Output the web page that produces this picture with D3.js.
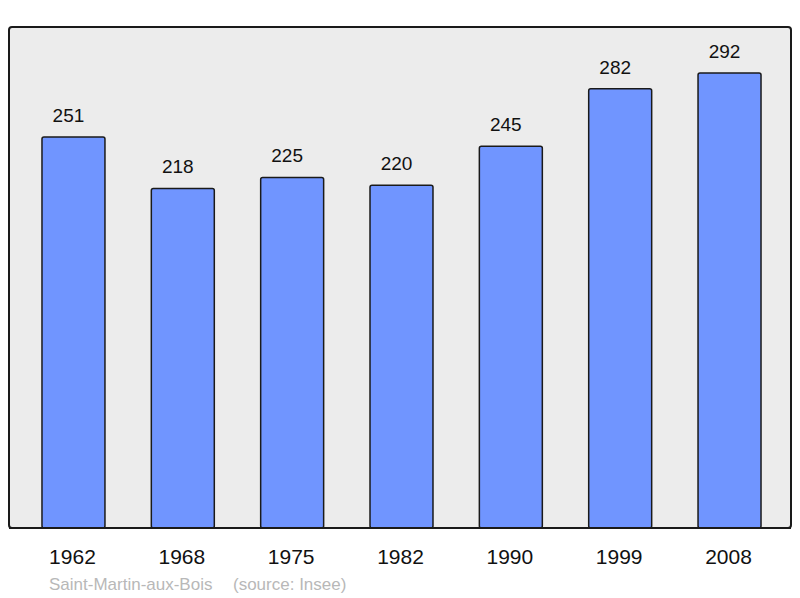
<!DOCTYPE html>
<html>
<head>
<meta charset="utf-8">
<script src="https://cdn.jsdelivr.net/npm/d3@7"></script>
<style>
  body { margin: 0; background: #fff; }
  svg { display: block; font-family: "Liberation Sans", Arial, sans-serif; }
</style>
</head>
<body>
<div class="chart"></div>
<script>
const years = ["1962", "1968", "1975", "1982", "1990", "1999", "2008"];
const population = [251, 218, 225, 220, 245, 282, 292];
const town = "Saint-Martin-aux-Bois";
const source = "(source: Insee)";

const width = 800, height = 598;
const panel = { left: 9, top: 27, right: 791, bottom: 528 };

const svg = d3.select(".chart")
    .append("svg")
    .attr("width", width)
    .attr("height", height);

// frame
svg.append("rect")
    .attr("x", panel.left)
    .attr("y", panel.top)
    .attr("width", panel.right - panel.left)
    .attr("height", panel.bottom - panel.top)
    .attr("rx", 3)
    .attr("fill", "#ececec")
    .attr("stroke", "#1a1a1a")
    .attr("stroke-width", 2);

const x = d3.scaleBand()
    .domain(years)
    .range([18.8, 784.2])
    .paddingInner(0.424)
    .paddingOuter(0.212);

const y = d3.scaleLinear()
    .domain([0, 321.6])
    .range([panel.bottom, panel.top]);

const data = years.map((yr, i) => ({ year: yr, value: population[i] }));

svg.selectAll(".bar")
    .data(data)
    .join("rect")
    .attr("class", "bar")
    .attr("x", d => x(d.year))
    .attr("y", d => y(d.value))
    .attr("width", x.bandwidth())
    .attr("height", d => y(0) - y(d.value))
    .attr("rx", 2)
    .attr("fill", "#7095ff")
    .attr("stroke", "#1a1a1a")
    .attr("stroke-width", 1.5);

// redraw the bottom line of the frame over the bars
svg.append("line")
    .attr("x1", panel.left)
    .attr("x2", panel.right)
    .attr("y1", panel.bottom)
    .attr("y2", panel.bottom)
    .attr("stroke", "#1a1a1a")
    .attr("stroke-width", 2);

svg.selectAll(".value")
    .data(data)
    .join("text")
    .attr("class", "value")
    .attr("x", d => x(d.year) + x.bandwidth() / 2 - 5)
    .attr("y", d => y(d.value) - 15)
    .attr("text-anchor", "middle")
    .style("font-size", "19px")
    .style("fill", "#111")
    .text(d => d.value);

svg.selectAll(".year")
    .data(years)
    .join("text")
    .attr("class", "year")
    .attr("x", d => x(d) + x.bandwidth() / 2 - 1)
    .attr("y", 564)
    .attr("text-anchor", "middle")
    .style("font-size", "21px")
    .style("fill", "#111")
    .text(d => d);

svg.append("text")
    .attr("x", 49)
    .attr("y", 590)
    .style("font-size", "17px")
    .style("fill", "#b8b8b8")
    .text(town);

svg.append("text")
    .attr("x", 233)
    .attr("y", 590)
    .style("font-size", "17px")
    .style("fill", "#b8b8b8")
    .text(source);
</script>
</body>
</html>
